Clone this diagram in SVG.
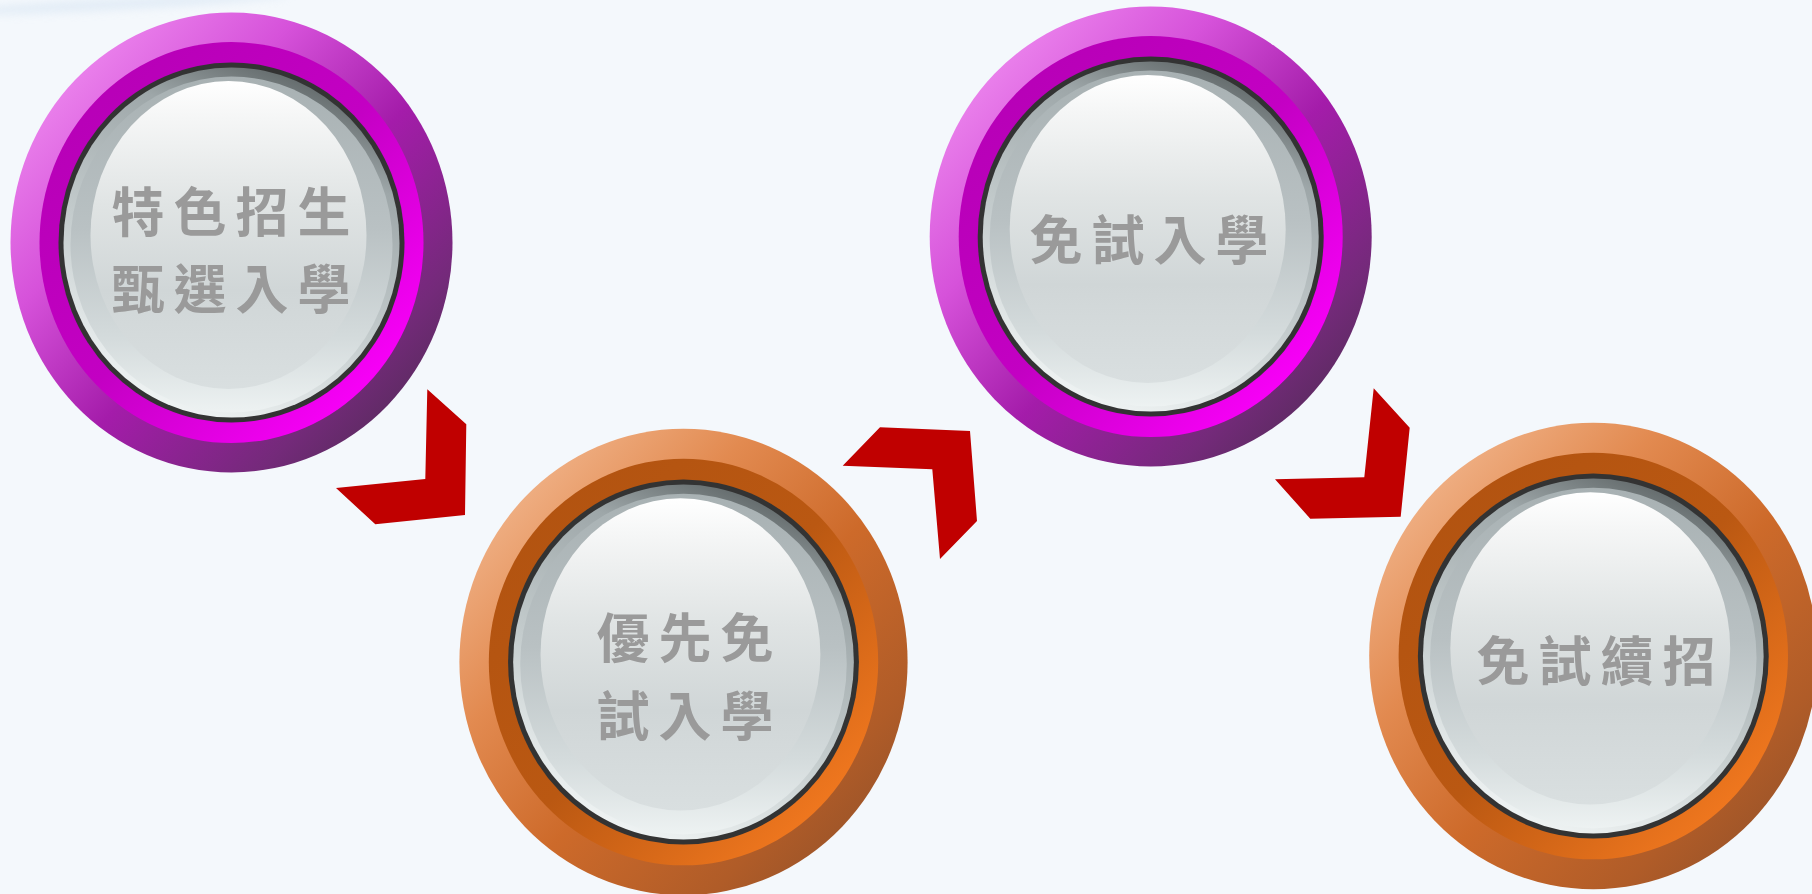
<svg xmlns="http://www.w3.org/2000/svg" width="1812" height="894" viewBox="0 0 1812 894">
<style>
.lbl{font-family:"Noto Sans CJK TC","Noto Sans CJK SC",sans-serif;font-size:53px;font-weight:700;fill:#9A9A9A;text-anchor:middle;letter-spacing:9px}
.ring{stroke:none}
.chev{fill:#C00000}
</style>
<defs>
<linearGradient id="mOuter" x1="0" y1="0" x2="1" y2="1">
<stop offset="0" stop-color="#F8A2F8"/>
<stop offset="0.33" stop-color="#D652DA"/>
<stop offset="0.55" stop-color="#A41CAA"/>
<stop offset="0.78" stop-color="#742A7A"/>
<stop offset="1" stop-color="#3E2C42"/>
</linearGradient>
<linearGradient id="mMid" x1="0" y1="0" x2="1" y2="1">
<stop offset="0" stop-color="#B300B3"/>
<stop offset="0.5" stop-color="#C300C3"/>
<stop offset="0.85" stop-color="#F600F6"/>
<stop offset="1" stop-color="#FF10FF"/>
</linearGradient>
<linearGradient id="oOuter" x1="0" y1="0" x2="1" y2="1">
<stop offset="0" stop-color="#F8C8A6"/>
<stop offset="0.33" stop-color="#E28A50"/>
<stop offset="0.55" stop-color="#CD6A2A"/>
<stop offset="0.78" stop-color="#B05C28"/>
<stop offset="1" stop-color="#864C2A"/>
</linearGradient>
<linearGradient id="oMid" x1="0" y1="0" x2="1" y2="1">
<stop offset="0" stop-color="#B05210"/>
<stop offset="0.5" stop-color="#BA5812"/>
<stop offset="0.85" stop-color="#EE761E"/>
<stop offset="1" stop-color="#F88020"/>
</linearGradient>
<linearGradient id="discA" x1="0.7" y1="0" x2="0.3" y2="1">
<stop offset="0" stop-color="#5C6364"/>
<stop offset="0.22" stop-color="#9EA7A9"/>
<stop offset="0.6" stop-color="#C4CCCD"/>
<stop offset="1" stop-color="#F2F6F6"/>
</linearGradient>
<linearGradient id="discB" x1="0" y1="0" x2="0" y2="1">
<stop offset="0" stop-color="#A8B1B3"/>
<stop offset="0.45" stop-color="#B9C1C3"/>
<stop offset="0.78" stop-color="#D4DBDC"/>
<stop offset="1" stop-color="#EDF2F2"/>
</linearGradient>
<linearGradient id="hl" x1="0" y1="0" x2="0" y2="1">
<stop offset="0" stop-color="#FFFFFF"/>
<stop offset="0.12" stop-color="#F5F6F6"/>
<stop offset="0.4" stop-color="#E0E4E4"/>
<stop offset="0.68" stop-color="#D0D6D7"/>
<stop offset="1" stop-color="#D9DFE0"/>
</linearGradient>
<filter id="blur" x="-20%" y="-200%" width="140%" height="500%"><feGaussianBlur stdDeviation="4"/></filter>
</defs>
<rect x="0" y="0" width="1812" height="894" fill="#F4F8FC"/>
<ellipse cx="120" cy="4" rx="170" ry="6" fill="#DCE8F4" opacity="0.7" filter="url(#blur)" transform="rotate(-3 120 4)"/>

<g id="node1" transform="translate(231.5,242.5)">
<ellipse class="ring" rx="221" ry="230" fill="url(#mOuter)"/>
<ellipse class="ring" rx="192" ry="200.5" fill="url(#mMid)"/>
<ellipse rx="173" ry="180" fill="#333333"/>
<ellipse rx="168" ry="175" fill="url(#discA)"/>
<ellipse cy="2" rx="161" ry="168" fill="url(#discB)"/>
<ellipse cx="-3" cy="-7.5" rx="138" ry="154" fill="url(#hl)"/>
<text class="lbl" x="4" y="-11">特色招生</text>
<text class="lbl" x="4" y="66">甄選入學</text>
</g>

<g id="node2" transform="translate(683.5,662)">
<g transform="scale(1.014)">
<ellipse class="ring" rx="221" ry="230" fill="url(#oOuter)"/>
<ellipse class="ring" rx="192" ry="200.5" fill="url(#oMid)"/>
<ellipse rx="173" ry="180" fill="#333333"/>
<ellipse rx="168" ry="175" fill="url(#discA)"/>
<ellipse cy="2" rx="161" ry="168" fill="url(#discB)"/>
<ellipse cx="-3" cy="-7.5" rx="138" ry="154" fill="url(#hl)"/>
</g>
<text class="lbl" x="6" y="-4">優先免</text>
<text class="lbl" x="6" y="73.5">試入學</text>
</g>

<g id="node3" transform="translate(1150.7,236.5)">
<ellipse class="ring" rx="221" ry="230" fill="url(#mOuter)"/>
<ellipse class="ring" rx="192" ry="200.5" fill="url(#mMid)"/>
<ellipse rx="173" ry="180" fill="#333333"/>
<ellipse rx="168" ry="175" fill="url(#discA)"/>
<ellipse cy="2" rx="161" ry="168" fill="url(#discB)"/>
<ellipse cx="-3" cy="-7.5" rx="138" ry="154" fill="url(#hl)"/>
<text class="lbl" x="2.8" y="23">免試入學</text>
</g>

<g id="node4" transform="translate(1593.3,656)">
<g transform="scale(1.014)">
<ellipse class="ring" rx="221" ry="230" fill="url(#oOuter)"/>
<ellipse class="ring" rx="192" ry="200.5" fill="url(#oMid)"/>
<ellipse rx="173" ry="180" fill="#333333"/>
<ellipse rx="168" ry="175" fill="url(#discA)"/>
<ellipse cy="2" rx="161" ry="168" fill="url(#discB)"/>
<ellipse cx="-3" cy="-7.5" rx="138" ry="154" fill="url(#hl)"/>
</g>
<text class="lbl" x="7.2" y="25">免試續招</text>
</g>

<g id="connectors">
<polygon class="chev" points="427.3,389.3 466.3,424.3 465,515 375.3,524.3 336,488 425.3,479"/>
<polygon class="chev" points="842.7,465.7 880,427.3 970,431 977,521 940,559 932.3,469.3"/>
<polygon class="chev" points="1373.7,388.3 1409.7,427.7 1400.7,516.7 1310.3,518.7 1275,479.3 1364.3,477.3"/>
</g>
</svg>
